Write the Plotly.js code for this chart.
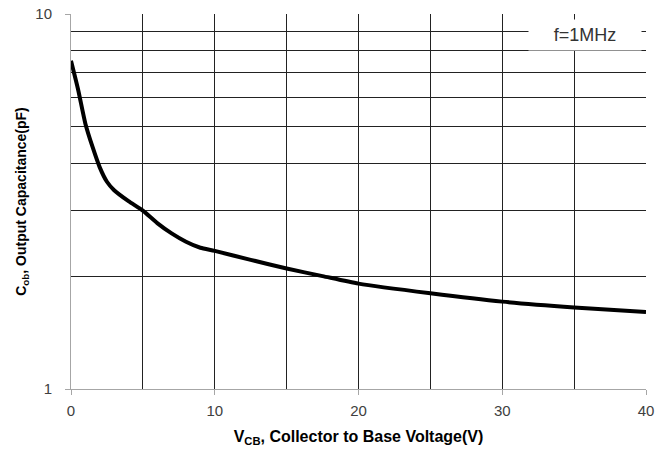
<!DOCTYPE html>
<html>
<head>
<meta charset="utf-8">
<script src="https://cdn.plot.ly/plotly-3.0.1.min.js"></script>
<style>html,body{margin:0;padding:0;background:#fff;}#chart{width:672px;height:455px;}</style>
</head>
<body>
<div id="chart"></div>
<script>
// Collector-to-base voltage (V)
const vcb = [0, 0.5, 1, 1.5, 2, 2.5, 3, 4, 5, 6, 7, 8, 9, 10, 12.5, 15, 17.5, 20, 25, 30, 35, 40];
// Output capacitance Cob (pF)
const cob = [7.5, 6.27, 5.1, 4.42, 3.9, 3.57, 3.39, 3.17, 2.99, 2.77, 2.6, 2.47, 2.38, 2.335, 2.21, 2.096, 2.0, 1.91, 1.80, 1.71, 1.65, 1.605];
const xTicks = [0, 10, 20, 30, 40];
const xMinor = [5, 15, 25, 35];
const yTicks = [1, 10];
const yMinor = [2, 3, 4, 5, 6, 7, 8, 9];
const noteText = "f=1MHz";

const trace = {
  x: vcb, y: cob, type: 'scatter', mode: 'lines',
  line: {color: '#000', width: 4, shape: 'spline', smoothing: 0.6},
  hoverinfo: 'skip'
};

const FONT = 'Liberation Sans, Arial, sans-serif';
const layout = {
  width: 672, height: 455,
  margin: {l: 71, r: 26, t: 14, b: 66},
  paper_bgcolor: '#fff', plot_bgcolor: '#fff',
  showlegend: false,
  font: {family: FONT, color: '#404040'},
  xaxis: {
    range: [0, 40], tickmode: 'array', tickvals: xTicks, ticktext: xTicks.map(String),
    showgrid: true, gridcolor: '#222', gridwidth: 1,
    minor: {tickmode: 'array', tickvals: xMinor, showgrid: true, gridcolor: '#222', gridwidth: 1, ticks: ''},
    zeroline: false, showline: true, linecolor: '#a6a6a6', linewidth: 1,
    ticks: 'outside', ticklen: 5, tickcolor: '#a6a6a6', ticklabelstandoff: 3,
    tickfont: {size: 15, color: '#404040', family: FONT},
    title: {text: 'V<sub>CB</sub>, Collector to Base Voltage(V)', font: {size: 16, color: '#000', family: FONT, weight: 'bold'}, standoff: 12}
  },
  yaxis: {
    type: 'log', range: [0, 1], tickmode: 'array', tickvals: yTicks, ticktext: yTicks.map(String),
    showgrid: true, gridcolor: '#222', gridwidth: 1,
    minor: {tickmode: 'array', tickvals: yMinor, showgrid: true, gridcolor: '#222', gridwidth: 1, ticks: ''},
    zeroline: false, showline: true, linecolor: '#a6a6a6', linewidth: 1,
    ticks: 'outside', ticklen: 5, tickcolor: '#a6a6a6', ticklabelstandoff: 10,
    tickfont: {size: 15, color: '#404040', family: FONT},
    title: {text: 'C<sub>ob</sub>, Output Capacitance(pF)', font: {size: 14, color: '#000', family: FONT, weight: 'bold'}, standoff: 5}
  },
  annotations: [{
    text: noteText, xref: 'paper', yref: 'paper', x: 0.894, y: 0.944,
    xanchor: 'center', yanchor: 'middle', showarrow: false,
    bgcolor: '#fff', width: 110, height: 28,
    font: {size: 18, color: '#333', family: FONT}
  }]
};

Plotly.newPlot('chart', [trace], layout, {staticPlot: true, displayModeBar: false});
</script>
</body>
</html>
